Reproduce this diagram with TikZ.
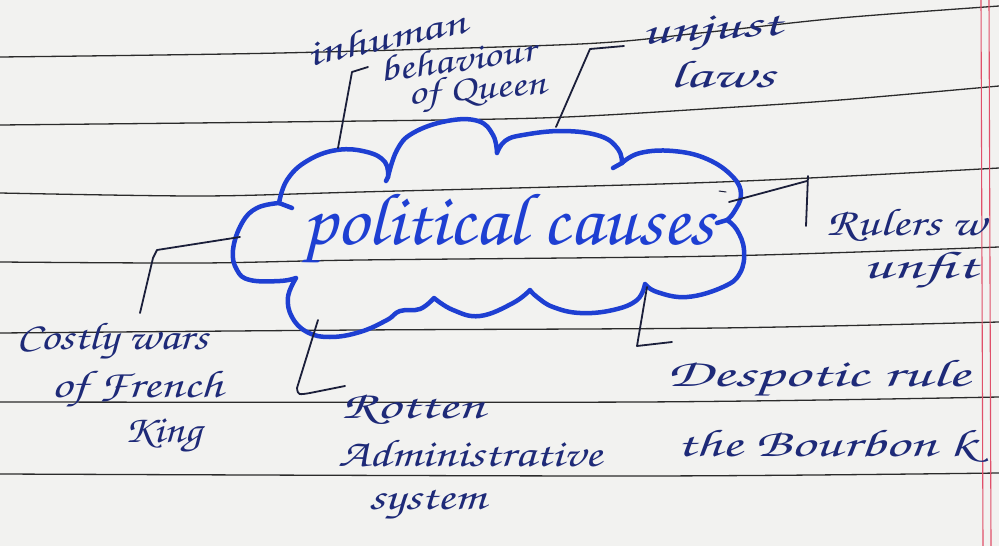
\documentclass[tikz,border=0pt]{standalone}
\usepackage[T1,TU]{fontenc}
\newcommand\hwfont[1]{\fontencoding{T1}\fontfamily{pzc}\fontseries{mb}\fontshape{it}\fontsize{#1}{#1}\selectfont}
\definecolor{paperc}{HTML}{F2F2F0}
\definecolor{rulec}{HTML}{2B2B2B}
\definecolor{marginc}{HTML}{E0506A}
\definecolor{cloudc}{HTML}{1E3FD2}
\definecolor{inkc}{HTML}{1E2A78}
\definecolor{penc}{HTML}{1B1F3A}
\begin{document}
\begin{tikzpicture}[x=1pt,y=-1pt,
  ruled/.style={draw=rulec,line width=1.3pt},
  marginline/.style={draw=marginc,line width=1.1pt},
  cloudline/.style={draw=cloudc,line width=4.5pt,line cap=round,line join=round},
  conn/.style={draw=penc,line width=1.8pt,line cap=round,line join=round},
  lbl/.style={text=inkc,inner sep=0pt,yscale=0.92,font=\hwfont{42}},
  toplbl/.style={text=inkc,inner sep=0pt,yscale=0.86,font=\hwfont{42}},
  title/.style={text=cloudc,inner sep=0pt,font=\hwfont{74}}]
\useasboundingbox (0,0) rectangle (999,546);
\fill[paperc] (0,0) rectangle (999,546);
% ruled lines
\draw[ruled] plot[smooth] coordinates {(0,57) (280,53) (580,44) (700,33) (840,18) (999,6)};
\draw[ruled] plot[smooth] coordinates {(0,125) (280,122) (540,118) (720,108) (840,100) (999,86)};
\draw[ruled] plot[smooth] coordinates {(0,193) (200,196) (360,192) (720,182) (999,168)};
\draw[ruled] plot[smooth] coordinates {(0,262) (200,263) (360,260) (720,256) (999,247)};
\draw[ruled] plot[smooth] coordinates {(0,333) (360,330) (720,328) (999,322)};
\draw[ruled] plot[smooth] coordinates {(0,402) (640,402) (999,397)};
\draw[ruled] plot[smooth] coordinates {(0,474) (640,476) (999,473)};
% margin
\draw[marginline] (981,0) -- (983,546);
\draw[marginline] (989,0) -- (991,546);
% cloud
\draw[cloudline]
  plot[smooth,tension=0.7] coordinates {(279,203) (287,180) (307,161) (337,150) (367,152) (385,162) (388,177)}
  plot[smooth,tension=0.7] coordinates {(388,177) (397,150) (413,133) (447,121) (478,121) (493,135) (497,153)}
  plot[smooth,tension=0.7] coordinates {(497,153) (505,141) (523,135) (563,131) (600,136) (618,149) (622,163)}
  plot[smooth,tension=0.7] coordinates {(622,163) (640,153) (673,151) (707,159) (733,177) (741,195) (734,212) (727,220)}
  plot[smooth,tension=0.7] coordinates {(727,220) (737,230) (744,250) (740,273) (723,287) (687,297) (657,292) (645,284)}
  plot[smooth,tension=0.7] coordinates {(645,284) (637,300) (613,310) (580,313) (553,307) (537,297) (530,290)}
  plot[smooth,tension=0.7] coordinates {(530,290) (513,303) (480,316) (453,310) (434,298)}
  plot[smooth,tension=0.7] coordinates {(434,298) (420,309) (400,311) (387,320) (360,332) (330,337) (307,332) (292,317) (288,297) (296,278)}
  plot[smooth,tension=0.7] coordinates {(296,278) (280,281) (250,280) (237,270) (233,250) (242,223) (257,208) (279,203)};
\draw[cloudline] (279,203) -- (292,208);
\draw[cloudline] (622,163) -- (613,168);
\draw[cloudline] (727,220) -- (717,223);
\draw[cloudline] (388,177) -- (386,181);
% centre text
\node[title,xscale=1.05] (pc) at (508,230) {political causes};
% connector anchor points
\coordinate (q0) at (338,148); \coordinate (q1) at (352,72); \coordinate (q2) at (368,67);
\coordinate (u0) at (556,127); \coordinate (u1) at (590,49); \coordinate (u2) at (624,46);
\coordinate (r0) at (729,202); \coordinate (r1) at (807,181); \coordinate (r2) at (808,176); \coordinate (r3) at (806,226);
\coordinate (k0) at (240,237); \coordinate (k1) at (157,250); \coordinate (k2) at (153,258); \coordinate (k3) at (140,313);
\coordinate (a0) at (318,320); \coordinate (a1) at (297,388); \coordinate (a2) at (310,393); \coordinate (a3) at (345,386);
\coordinate (d0) at (647,287); \coordinate (d1) at (637,346); \coordinate (d2) at (672,342);
\coordinate (t0) at (719,191); \coordinate (t1) at (726,192);
\draw[conn] (q0) -- (q1) -- (q2);
\draw[conn] (u0) -- (u1) -- (u2);
\draw[conn] (r0) -- (r1);
\draw[conn] (r2) -- (r3);
\draw[conn] (k0) -- (k1) -- (k2) -- (k3);
\draw[conn] (a0) -- (a1) .. controls (298,395) .. (a2) -- (a3);
\draw[conn] (d0) -- (d1) -- (d2);
\draw[conn,line width=1pt] (t0) -- (t1);
% labels
\node[toplbl,rotate=14,xscale=1.25] (inh) at (386,37) {inhuman};
\node[toplbl,rotate=9,xscale=1.08] (beh) at (457,59) {behaviour};
\node[toplbl,rotate=5,xscale=1.05] (ofq) at (477,92) {of Queen};
\node[lbl,rotate=4,xscale=1.5] (unj) at (712,34) {unjust};
\node[lbl,xscale=1.5] (laws) at (722,74) {laws};
\node[lbl,anchor=west,xscale=1.2] (rul) at (826,225) {Rulers w};
\node[lbl,xscale=1.55] (unf) at (920,271) {unfit};
\node[lbl,xscale=1.1] (cw) at (112,342) {Costly wars};
\node[lbl,xscale=1.2] (off) at (137,390) {of French};
\node[lbl,xscale=1.05] (king) at (163,437) {King};
\node[lbl,xscale=1.4] (rot) at (413,409) {Rotten};
\node[lbl,xscale=1.18] (adm) at (470,453) {Administrative};
\node[lbl,xscale=1.2] (sys) at (427,505) {system};
\node[lbl,anchor=west,xscale=1.55] (desp) at (666,379) {Despotic rule};
\node[lbl,anchor=west,xscale=1.42] (bour) at (676,446) {the Bourbon k};
\end{tikzpicture}
\end{document}
